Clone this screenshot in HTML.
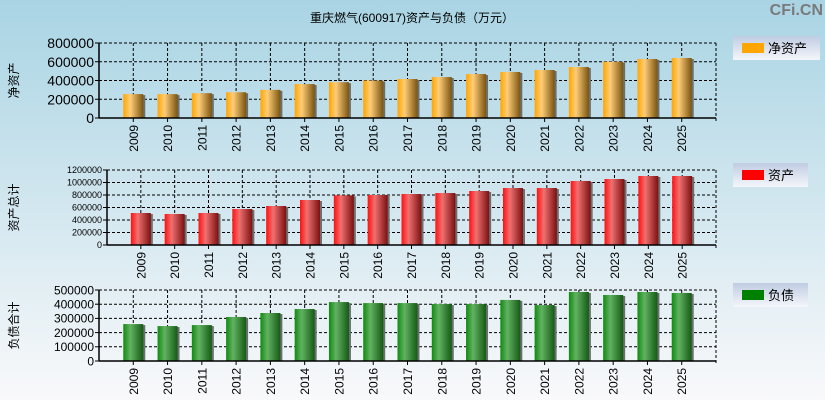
<!DOCTYPE html>
<html><head><meta charset="utf-8"><style>
html,body{margin:0;padding:0;width:825px;height:400px;overflow:hidden}
body{background:linear-gradient(#a9d4e4,#d5e8f0 55%,#f9f9fb);font-family:"Liberation Sans","Noto Sans CJK SC",sans-serif}
</style></head><body>
<svg id="c" width="825" height="400" xmlns="http://www.w3.org/2000/svg" style="position:absolute;left:0;top:0">
<defs>
<linearGradient id="gO" x1="0" x2="1"><stop offset="0" stop-color="#ffa500"/><stop offset="0.35" stop-color="#ffcd78"/><stop offset="1" stop-color="#7a5410"/></linearGradient>
<linearGradient id="gR" x1="0" x2="1"><stop offset="0" stop-color="#ff1010"/><stop offset="0.35" stop-color="#f07070"/><stop offset="1" stop-color="#7a1010"/></linearGradient>
<linearGradient id="gG" x1="0" x2="1"><stop offset="0" stop-color="#108a10"/><stop offset="0.35" stop-color="#62b262"/><stop offset="1" stop-color="#155a15"/></linearGradient>
<linearGradient id="lg" x1="0" y1="0" x2="0" y2="1"><stop offset="0" stop-color="#c0cce2"/><stop offset="1" stop-color="#f4f6fa"/></linearGradient>
</defs>
<text x="412" y="22" font-size="12" text-anchor="middle" fill="#000">重庆燃气(600917)资产与负债（万元）</text>
<text x="823" y="15" font-size="16" font-weight="bold" text-anchor="end" fill="#7a7a7a">CFi.CN</text>
</svg>
<script>
const years=["2009","2010","2011","2012","2013","2014","2015","2016","2017","2018","2019","2020","2021","2022","2023","2024","2025"];
const netAssets=[255000,255000,265000,275000,300000,362000,382000,400000,416000,437000,469000,491000,512000,544000,600000,629000,640000];
const totalAssets=[512000,496000,512000,576000,624000,720000,795000,800000,816000,832000,864000,912000,912000,1024000,1056000,1104000,1104000];
const totalDebt=[260000,246000,253000,310000,338000,366000,415000,408000,408000,401000,401000,430000,394000,486000,465000,486000,479000];
const ticksTop=[0,200000,400000,600000,800000];
const ticksMid=[0,200000,400000,600000,800000,1000000,1200000];
const ticksBot=[0,100000,200000,300000,400000,500000];
const svg=document.getElementById('c');const NS="http://www.w3.org/2000/svg";
function mk(t,a,p){const e=document.createElementNS(NS,t);for(const k in a)e.setAttribute(k,a[k]);(p||svg).appendChild(e);return e;}
function panel(o){
  const g=mk('g',{});
  
  
  const W=o.x1-o.x0,H=o.y1-o.y0,step=W/18,max=o.ticks[o.ticks.length-1];
  const ys=v=>o.y1-v/max*H, xs=i=>o.x0+step*(i+1);
  o.ticks.forEach((t,i)=>{const y=ys(t);
    if(i>0){const l=mk('line',{x1:o.x0,x2:o.x1,y1:y,y2:y,stroke:'#000','stroke-dasharray':'3,2'},g);}
    mk('line',{x1:o.x0-4,x2:o.x0,y1:y,y2:y,stroke:'#000'},g);
    const tx=mk('text',{x:o.x0-5,y:y+o.fs*0.36,'font-size':o.fs,'text-anchor':'end',fill:'#000'},g);tx.textContent=t;
    });
  years.forEach((yr,i)=>{const x=xs(i);
    const l=mk('line',{x1:x,x2:x,y1:o.y0,y2:o.y1,stroke:'#000','stroke-dasharray':'3,2'},g);
    mk('line',{x1:x,x2:x,y1:o.y1,y2:o.y1+4,stroke:'#000'},g);
    const v=o.data[i],bw=20,top=ys(v);
    mk('rect',{x:x-bw/2+2,y:top+1,width:bw,height:o.y1-top-1,fill:'#6a7070'},g);
    const r=mk('rect',{x:x-bw/2,y:top,width:bw,height:o.y1-top,fill:o.fill},g);
    
    const tx=mk('text',{x:0,y:0,'font-size':12,'text-anchor':'end',fill:'#000',transform:`translate(${x+4.5},${o.y1+7}) rotate(-90)`},g);tx.textContent=yr;
    });
  mk('line',{x1:o.x0,x2:o.x1,y1:o.y0,y2:o.y0,stroke:'#000','stroke-dasharray':'3,2'},g);
  mk('line',{x1:o.x1,x2:o.x1,y1:o.y0,y2:o.y1+4,stroke:'#000','stroke-dasharray':'3,2'},g);
  mk('line',{x1:o.x0,x2:o.x0,y1:o.y0,y2:o.y1,stroke:'#000','stroke-width':1.5},g);
  mk('line',{x1:o.x0,x2:o.x1,y1:o.y1,y2:o.y1,stroke:'#000','stroke-width':1.5},g);
  const at=mk('text',{x:0,y:0,'font-size':12,'text-anchor':'middle',fill:'#000',transform:`translate(18,${(o.y0+o.y1)/2}) rotate(-90)`},g);at.textContent=o.title;
  
  const lg=mk('g',{},g);
  mk('rect',{x:733,y:o.ly,width:o.lw,height:24,fill:'url(#lg)'},lg);
  mk('rect',{x:742,y:o.ly+7,width:22,height:10,fill:o.lc},lg);
  const lt=mk('text',{x:768,y:o.ly+17,'font-size':13,fill:'#000'},lg);lt.textContent=o.label;
}
panel({name:'net-assets',x0:99,x1:716,y0:43,y1:118,data:netAssets,ticks:ticksTop,fs:14,fill:'url(#gO)',title:'净资产',ly:36,lw:87,lc:'#ffa500',label:'净资产'});
panel({name:'total-assets',x0:107,x1:716,y0:170,y1:245,data:totalAssets,ticks:ticksMid,fs:9,fill:'url(#gR)',title:'资产总计',ly:163,lw:75,lc:'#ff0000',label:'资产'});
panel({name:'total-debt',x0:99,x1:716,y0:290,y1:361,data:totalDebt,ticks:ticksBot,fs:12,fill:'url(#gG)',title:'负债合计',ly:283,lw:75,lc:'#008000',label:'负债'});
</script>
</body></html>
